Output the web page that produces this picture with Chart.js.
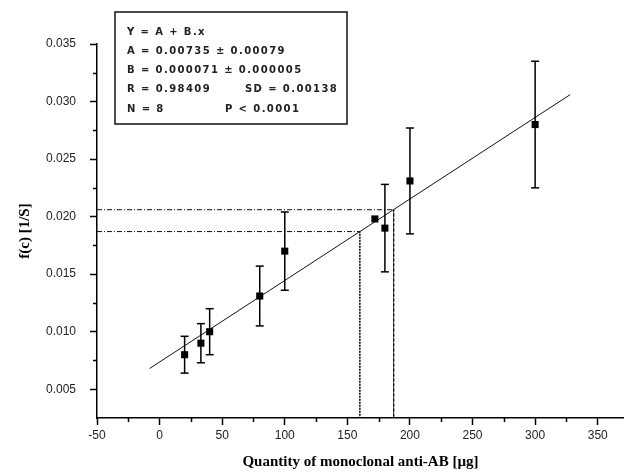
<!DOCTYPE html>
<html>
<head>
<meta charset="utf-8">
<script src="https://cdn.jsdelivr.net/npm/chart.js@4.4.1/dist/chart.umd.min.js"></script>
<style>
    html, body { margin: 0; padding: 0; background: #fff; overflow: hidden; }
</style>
</head>
<body>
<canvas id="calib" width="624" height="473"></canvas>
<script>
// Dataset
const quantity = [20, 33, 40, 80, 100, 172, 180, 200, 300];
const fc = [0.0080, 0.0090, 0.0100, 0.0131, 0.0170, 0.0198, 0.0190, 0.0231, 0.0280];
const fcError = [0.0016, 0.0017, 0.0020, 0.0026, 0.0034, 0.0000, 0.0038, 0.0046, 0.0055];

// Fitted line ends
const fitX = [-8, 328];
const fitY = [0.0068, 0.0306];

// Read-off lines (x on the axis, f(c) on the fit)
const readX = [160, 187];
const readY = [0.0187, 0.0206];

// Fit results box
const fitLines = [
    "Y = A + B.x",
    "A = 0.00735 ± 0.00079",
    "B = 0.000071 ± 0.000005",
    "R = 0.98409",
    "N = 8"
];
const fitLinesRight = ["", "", "", "SD = 0.00138", "P < 0.0001"];

const xMin = -50, xMax = 371;
const yMin = 0.0025, yMax = 0.035;

// Build the datasets
let pointData = quantity.map((x, i) => ({ x: x, y: fc[i] }));

let errorData = [];
quantity.forEach((x, i) => {
    if (fcError[i] > 0) {
        errorData.push({ x: x, y: fc[i] - fcError[i] });
        errorData.push({ x: x, y: fc[i] + fcError[i] });
        errorData.push({ x: x, y: null });
    }
});

let fitData = fitX.map((x, i) => ({ x: x, y: fitY[i] }));

let readSets = readX.map((x, i) => ({
    data: [
        { x: xMin, y: readY[i] },
        { x: x, y: readY[i] },
        { x: x, y: yMin }
    ],
    showLine: true,
    borderColor: "#111",
    borderWidth: 1,
    pointRadius: 0,
    segment: {
        borderDash: ctx => ctx.p0.parsed.y === ctx.p1.parsed.y ? [5, 2, 1, 2] : (i === 0 ? [1.5, 1.5] : [3, 2])
    },
    order: 4
}));

// Minor ticks (unlabelled) drawn shorter
const minorTicks = {
    id: "minorTicks",
    afterDraw(chart) {
        let ctx = chart.ctx;
        ctx.save();
        ctx.strokeStyle = "#000";
        ctx.lineWidth = 1.5;
        let xs = chart.scales.x, ys = chart.scales.y;
        for (let v = -25; v < xMax; v += 50) {
            let px = Math.round(xs.getPixelForValue(v)) + 0.5;
            ctx.beginPath();
            ctx.moveTo(px, xs.top);
            ctx.lineTo(px, xs.top + 4);
            ctx.stroke();
        }
        for (let v = 0.0075; v < yMax; v += 0.005) {
            let py = Math.round(ys.getPixelForValue(v)) + 0.5;
            ctx.beginPath();
            ctx.moveTo(ys.right, py);
            ctx.lineTo(ys.right - 4, py);
            ctx.stroke();
        }
        ctx.restore();
    }
};

// Text box with fit results
const fitBox = {
    id: "fitBox",
    afterDraw(chart) {
        let ctx = chart.ctx;
        ctx.save();
        ctx.fillStyle = "#fff";
        ctx.fillRect(115, 12, 232, 112);
        ctx.strokeStyle = "#111";
        ctx.lineWidth = 1.5;
        ctx.strokeRect(115, 12, 232, 112);
        ctx.fillStyle = "#222";
        ctx.font = "bold 10px 'DejaVu Sans'";
        ctx.letterSpacing = "1.4px";
        ctx.textBaseline = "middle";
        fitLines.forEach((t, i) => {
            let y = 32 + i * 19.3;
            ctx.fillText(t, 127, y);
            if (fitLinesRight[i]) ctx.fillText(fitLinesRight[i], i === 3 ? 245 : 225, y);
        });
        ctx.restore();
    }
};

const tickFont = { family: "'Liberation Sans', Arial", size: 12 };
const titleFont = { family: "'Liberation Serif', 'Times New Roman'", size: 15, weight: "bold" };

let canvas = document.getElementById("calib").getContext("2d");
let chart = new Chart(canvas, {
    type: "scatter",
    data: {
        datasets: [
            {
                data: pointData,
                pointStyle: "rect",
                pointRadius: 5,
                pointBackgroundColor: "#000",
                pointBorderColor: "#000",
                pointBorderWidth: 0,
                order: 1
            },
            {
                data: errorData,
                showLine: true,
                spanGaps: false,
                borderColor: "#000",
                borderWidth: 1.5,
                pointStyle: "line",
                pointRadius: 4,
                pointBorderColor: "#000",
                pointBorderWidth: 1.5,
                order: 2
            },
            {
                data: fitData,
                showLine: true,
                borderColor: "#111",
                borderWidth: 1,
                pointRadius: 0,
                order: 3
            },
            ...readSets
        ]
    },
    options: {
        responsive: false,
        animation: false,
        events: [],
        layout: { autoPadding: false, padding: { top: 44, right: 0, left: 0, bottom: 0 } },
        plugins: {
            legend: { display: false },
            tooltip: { enabled: false }
        },
        scales: {
            x: {
                type: "linear",
                min: xMin,
                max: xMax,
                border: { color: "#000", width: 1.5 },
                grid: { drawOnChartArea: false, drawTicks: true, tickLength: 7, color: "#000", tickWidth: 1.5 },
                ticks: {
                    stepSize: 50,
                    includeBounds: false,
                    color: "#222",
                    font: tickFont,
                    padding: 3,
                    maxRotation: 0,
                    autoSkip: false
                },
                title: {
                    display: true,
                    text: "Quantity of monoclonal anti-AB [µg]",
                    color: "#000",
                    font: titleFont,
                    padding: { top: 0, bottom: 2 }
                },
                afterFit: scale => {
                    scale.height = 55;
                    scale.paddingRight = 0;
                }
            },
            y: {
                type: "linear",
                min: yMin,
                max: yMax,
                border: { color: "#000", width: 1.5 },
                grid: { drawOnChartArea: false, drawTicks: true, tickLength: 7, color: "#000", tickWidth: 1.5 },
                ticks: {
                    stepSize: 0.005,
                    includeBounds: false,
                    color: "#222",
                    font: tickFont,
                    padding: 14,
                    callback: v => v.toFixed(3)
                },
                title: {
                    display: true,
                    text: "f(c) [1/S]",
                    color: "#000",
                    font: titleFont,
                    padding: { top: 16, bottom: 0 }
                },
                afterFit: scale => { scale.width = 97; }
            }
        }
    },
    plugins: [minorTicks, fitBox]
});
</script>
</body>
</html>
